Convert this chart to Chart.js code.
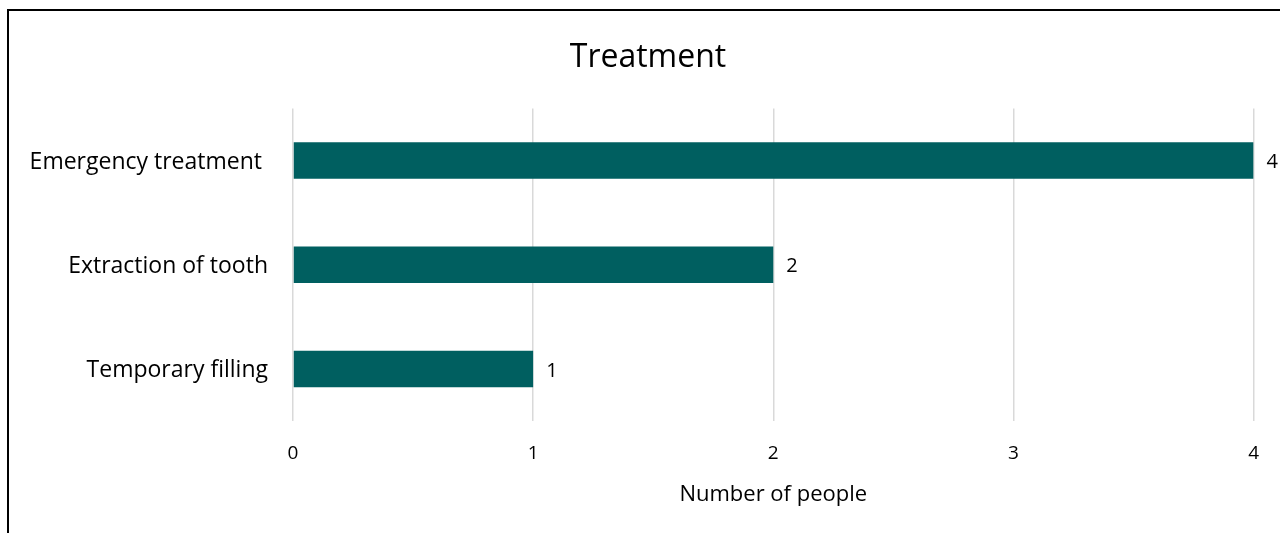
<!DOCTYPE html>
<html>
<head>
<meta charset="utf-8">
<script src="https://cdn.jsdelivr.net/npm/chart.js@4/dist/chart.umd.min.js"></script>
<style>
  html, body { margin: 0; padding: 0; background: #fff; }
  #wrap { position: relative; width: 1280px; height: 533px; overflow: hidden; }
  #frame { position: absolute; left: 7px; top: 9px; width: 1400px; height: 600px;
           border-left: 2px solid #000; border-top: 2px solid #000; }
  canvas { position: absolute; left: 0; top: 0; }
</style>
</head>
<body>
<div id="wrap">
  <div id="frame"></div>
  <canvas id="treatmentChart" width="1280" height="533"></canvas>
</div>
<script>
const categories = ["Emergency treatment ", "Extraction of tooth", "Temporary filling"];
const peopleCounts = [4, 2, 1];
const xTicks = [0, 1, 2, 3, 4];

const fontFamily = "'Open Sans', sans-serif";

// draw the count to the right of each bar
const barLabels = {
  id: "barLabels",
  afterDatasetsDraw(chart) {
    const ctx = chart.ctx;
    const meta = chart.getDatasetMeta(0);
    ctx.save();
    ctx.font = "20px " + fontFamily;
    ctx.fillStyle = "#000";
    ctx.textAlign = "left";
    ctx.textBaseline = "middle";
    meta.data.forEach((bar, i) => {
      ctx.fillText(String(peopleCounts[i]), bar.x + 13, bar.y + 2);
    });
    ctx.restore();
  }
};

// title sits a little right of the plot centre in the original
const shiftTitle = {
  id: "shiftTitle",
  afterLayout(chart) {
    if (chart.titleBlock) {
      chart.titleBlock.left += 21;
      chart.titleBlock.right += 21;
    }
  }
};

new Chart(document.getElementById("treatmentChart"), {
  type: "bar",
  data: {
    labels: categories,
    datasets: [{
      data: peopleCounts,
      backgroundColor: "#005F60",
      barPercentage: 0.35,
      categoryPercentage: 1
    }]
  },
  options: {
    indexAxis: "y",
    responsive: false,
    animation: false,
    layout: { padding: { left: 0, right: 26, top: 0, bottom: 0 } },
    plugins: {
      legend: { display: false },
      tooltip: { enabled: false },
      title: {
        display: true,
        text: "Treatment",
        color: "#000",
        font: { family: fontFamily, size: 32, weight: "normal" },
        padding: { top: 39, bottom: 31 }
      }
    },
    scales: {
      x: {
        min: 0,
        max: 4,
        afterBuildTicks: s => { s.ticks = xTicks.map(v => ({ value: v })); },
        afterFit: s => { s.height = 112; },
        grid: { color: "#d9d9d9", lineWidth: 1.5, drawTicks: false },
        border: { display: false },
        ticks: { color: "#000", padding: 21, font: { family: fontFamily, size: 19 } },
        title: {
          display: true,
          text: "Number of people",
          color: "#000",
          font: { family: fontFamily, size: 22 },
          padding: { top: 0, bottom: 25 }
        }
      },
      y: {
        afterFit: s => { s.width = 293; },
        grid: { display: false, drawTicks: false },
        border: { display: false },
        ticks: { color: "#000", padding: 25, labelOffset: 2, font: { family: fontFamily, size: 23 } }
      }
    }
  },
  plugins: [barLabels, shiftTitle]
});
</script>
</body>
</html>
